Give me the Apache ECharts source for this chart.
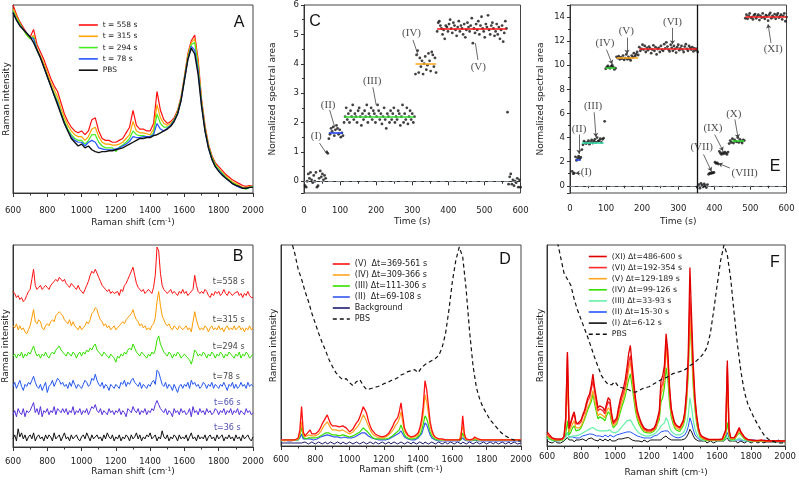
<!DOCTYPE html>
<html><head><meta charset="utf-8">
<script src="https://cdn.jsdelivr.net/npm/echarts@6/dist/echarts.min.js"></script>
<style>html,body{margin:0;padding:0;background:#fff}#c{width:799px;height:485px}</style>
</head><body><div id="c"></div>
<script>
// ---------------- DATA ----------------
// Raman shift grids (cm-1)
const shift20 = []; for (let s = 600; s <= 2000; s += 20) shift20.push(s);
const shift10 = []; for (let s = 600; s <= 2000; s += 10) shift10.push(s);

// Panel A (step 20), relative intensity
const aT558 = [100,95,91,88,85,83,87,79,75,71, 66,61,57,54,48,42,38,35,33,32, 33,31,33,39,40,33,29,28,28,27, 27,28,29,32,35,44,36,34,34,33, 33,37,54,44,39,37,38,40,44,51, 62,74,81,84,71,50,36,26,20,16, 14,12,10,8.5,7,6,5,4,3.5,4, 3.5];
const aT315 = [98,94,90,87,84,82,84,77,73,69, 64,59,55,51,45,40,36,33,31,30, 30,28,30,34,35,30,27,26,26,25.5, 25.5,26,27,29,31,38,33,32,32,31.5, 31,34,47,40,37,36,37,39,43,50, 61,73,80,82,69,49,35,25,19,15, 13,11,9,7.5,6,5,4,3,3,3.5, 3];
const aT294 = [97,93,90,87,84,82,83,76,72,67, 62,57,53,49,43,38,34,31,29,28, 28,26,28,31,31,27,25,24,24,24, 22,24.5,25.5,27,29,33,31,30.5,30.5,30, 30,32,42,37,35,35,36,39,43,50, 61,72,79,80,67,48,34,25,19,15, 12.5,10.5,8.5,7,5.5,4.5,3.5,2.5,2,3, 3.5];
const aT78 = [96,92,89,87,85,83,82,76,72,67, 62,57,52,48,42,37,33,30,28,27, 27,25,27,28,27,24,23.5,23,23,23, 23.5,24,25,26,27.5,30,29.5,29.5,30,30, 30,31,37,34,33,34.5,36,38.5,42,49, 60,71,78,76,65,47,33,24,18,14, 12,10,8,6.5,5,4,3,2.5,2.5,3, 3];
const aPBS = [96,92,89,87,85,83,80,76,72,67, 62,57,52,47,42,37,33,29,27,25, 26,24,25,23,22,21.5,22,22,22.5,22.5, 23,23.5,24,25,26,27,28,29,29,29.5, 29.5,30.5,31,32,33,34,35.5,38,42,49, 60,71,77,74,63,46,33,24,18,14, 11.5,9.5,8,6.5,5,4,3.5,2.5,2.5,3, 3];

// Panel B (step 10), offset spectra
const bT558 = [77,76,74,75,73,74,72,73,75,77, 78,83,88,80,78,79,80,78,79,80, 79,78,80,81,82,83,82,84,83,82, 83,81,80,79,81,80,79,78,80,78, 77,76,78,80,82,85,87,86,88,86, 84,82,80,79,78,77,78,76,77,76, 76,77,75,78,77,80,81,83,85,87, 89,85,81,79,78,77,78,76,77,78, 77,76,79,85,99,97,86,80,78,77, 76,77,78,76,77,76,75,77,76,78, 76,77,75,76,76,78,85,80,77,76, 77,76,78,77,75,74,76,75,77,76, 77,75,76,78,76,75,77,76,75,76, 76,77,75,76,74,76,75,77,75,74, 74];
const bT315 = [60,59,61,58,60,58,59,57,56,58, 60,64,68,62,61,63,62,59,58,60, 61,60,62,63,62,65,66,67,66,65, 63,62,61,63,60,62,60,59,58,60, 58,59,60,62,61,63,66,67,69,68, 65,63,62,60,61,59,60,58,59,60, 58,59,60,61,62,61,63,64,65,66, 68,65,63,62,60,61,59,60,58,59, 58,60,61,64,72,77,70,65,63,61, 60,61,59,58,60,59,58,60,59,58, 59,60,58,59,57,62,67,63,60,58, 59,58,60,59,57,59,60,58,59,58, 60,58,59,57,59,60,58,59,58,60, 58,59,60,58,59,57,59,58,60,58, 59];
const bT294 = [45,46,44,46,45,47,44,46,45,47, 46,48,50,47,45,46,44,46,45,47, 45,44,46,47,46,48,49,50,48,47, 46,45,47,46,45,47,46,44,46,47, 45,47,46,48,47,49,48,50,51,48, 47,46,45,47,46,45,44,46,45,44, 42,45,44,46,45,47,46,48,49,48, 51,49,47,46,45,47,46,45,44,46, 45,47,46,48,53,55,51,49,47,46, 45,47,46,44,46,45,47,46,44,45, 46,45,44,43,41,44,48,47,45,46, 45,47,46,44,46,45,47,46,44,46, 45,47,46,44,46,45,47,46,45,44, 46,45,47,44,46,45,47,46,44,45, 46];
const bT78 = [30,32,29,31,33,30,28,31,30,32, 31,33,35,32,30,29,31,28,30,32, 27,30,31,33,30,32,34,33,31,32, 30,31,29,32,30,33,31,29,31,30, 29,31,33,32,30,31,34,33,36,33, 31,30,32,29,31,30,28,31,30,29, 31,30,29,32,31,33,30,32,31,33, 34,32,31,30,32,29,31,30,29,31, 30,32,33,31,38,37,34,31,30,32, 29,31,30,28,31,29,27,30,31,29, 31,30,32,29,33,31,32,30,31,29, 30,32,31,29,31,30,32,29,31,30, 29,31,30,32,30,28,31,30,32,29, 31,29,30,32,30,31,29,32,30,31, 30];
const bT66 = [16,18,15,19,17,16,19,15,18,17, 18,20,22,17,19,16,20,15,18,17, 19,16,18,17,20,16,19,18,17,19, 17,19,16,18,17,20,16,18,17,19, 16,18,17,19,16,18,20,19,21,18, 17,19,16,18,17,16,19,17,18,16, 18,17,19,16,18,17,15,19,18,17, 20,18,17,19,16,18,17,19,16,18, 17,19,18,21,23,21,19,18,17,19, 16,18,17,15,19,17,18,16,19,17, 18,16,17,19,15,20,17,18,16,19, 17,18,16,19,17,18,16,17,19,18, 16,18,17,19,16,18,17,19,16,18, 17,19,16,18,17,16,19,17,18,16, 17];
const bT36 = [4,6,3,9,5,7,4,6,3,5, 6,4,7,3,5,6,4,5,3,6, 4,6,5,3,7,4,5,6,3,5, 7,4,5,3,6,4,5,6,4,3, 5,6,4,7,5,3,6,4,5,6, 4,5,3,6,4,7,5,4,6,3, 5,4,6,3,5,4,6,5,3,6, 4,5,7,4,6,3,5,4,6,5, 7,4,5,6,3,5,4,8,5,4, 6,3,5,4,6,5,3,6,4,5, 4,6,3,5,7,4,5,3,6,4, 5,4,6,3,5,6,4,5,3,6, 4,5,6,3,5,4,6,4,5,3, 6,4,5,3,6,4,5,6,4,3, 5];
const bLabels = ['t=558 s','t=315 s','t=294 s','t=78 s','t=66 s','t=36 s'];

// Panel C: normalized spectral area, one value every 3 s (t = 3..600)
const cArea = [
 -0.15,-0.2,0.0,0.25,0.1,0.3,0.05,-0.05,0.2,0.0,0.3,-0.2,-0.15,0.1,0.35,0.15,0.25,0.05,0.2,0.1,
 1.0,0.95,
 1.45,1.6,1.8,1.7,1.85,1.55,1.75,1.9,1.8,1.6,1.75,1.5,1.65,1.55,
 2.0,2.2,2.5,2.1,2.3,2.0,2.4,2.2,2.6,2.1, 2.3,2.2,2.0,2.4,2.5,2.2,1.9,2.3,2.1,2.4,
 2.2,2.6,2.0,2.3,2.2,2.5,2.1,2.4,2.3,2.0, 2.2,2.6,2.4,2.1,2.3,1.95,2.2,2.5,2.1,1.8,
 2.3,2.2,2.0,2.4,2.1,2.3,2.5,2.0,2.2,2.1, 2.4,2.3,1.9,2.2,2.6,2.0,2.3,2.1,2.5,1.95,
 2.2,2.4,2.1,2.3,2.0,2.2,
 3.65,4.3,4.45,3.7,4.2,3.9,4.1,3.65,4.0,4.25,3.8,3.95,4.35,4.1,3.75,4.4,4.3,3.9,4.2,3.7,
 5.1,5.4,5.45,5.3,5.2,5.0,5.15,4.85,5.3,5.25, 5.1,5.35,5.5,5.2,5.05,5.4,5.3,5.15,4.95,5.25,
 5.45,5.1,5.3,5.2,5.0,5.35,4.9,5.15,5.4,5.25, 5.1,5.3,5.55,4.7,5.2,5.05,5.35,5.15,5.45,5.0,
 5.3,5.6,5.2,5.1,4.9,5.35,5.25,5.65,5.15,5.0, 5.3,5.4,5.2,4.95,5.1,5.35,5.0,5.25,4.85,5.15,
 5.3,4.75,5.05,5.45,5.2,
 2.35,
 -0.1,0.15,0.25,-0.1,0.05,-0.15,0.0,-0.05,0.1,-0.2,0.05,-0.2
];
const cMeans = [[69,108,1.65],[111,306,2.2],[309,366,4.0],[369,561,5.2]];
// [label, text t, text value, pointer from t, from v, to t, to v]
const cNotes = [['(I)',34,1.55,43,1.3,62,0.95],['(II)',67,2.6,71,2.43,85,1.85],['(III)',189,3.4,191,3.2,200,2.6],['(IV)',298,5.04,302,4.81,316,4.3],['(V)',483,3.9,482,4.13,475,4.7]];

// Panel E: one value every 3 s (t = 3..600)
const eArea = [
 null,
 1.2,1.0,1.05,
 2.4,2.1,2.3,2.45,2.25,2.35,
 3.0,3.4,3.7,3.55,3.5,3.6,3.75,3.45,3.65,3.8,3.55,3.7,3.85,3.6,4.0,3.7,3.75,3.9,3.6,3.85,3.95,
 5.35,
 9.7,9.85,9.95,9.8,9.75,9.9,10.0,9.85,9.65,9.75,
 10.7,10.6,10.75,10.5,10.65,10.55,10.8,10.45,10.6,10.9,10.5,10.7,10.55,10.4,10.8,10.65,11.0,10.75,10.9,11.1,10.85,
 11.5,11.2,11.35,11.7,11.3,11.6,11.1,11.45,11.25,11.55, 11.4,11.0,11.3,11.65,11.2,11.5,10.9,11.35,11.45,11.1,
 11.6,11.3,11.2,11.75,11.4,11.9,11.55,11.3,11.15,11.7, 11.45,11.2,11.6,11.35,11.05,11.5,11.7,11.25,11.4,11.6,
 11.3,11.1,11.55,11.75,11.35,11.2,11.6,11.45,11.3,11.5, 11.15,11.4,11.25,11.35,11.1,
 0.1,-0.2,0.2,0.05,-0.1,0.15,0.0,-0.15,0.1,
 0.95,1.05,1.0,1.1,1.05,1.1,
 1.95,1.85,1.9,1.8,
 2.85,2.7,2.6,2.75,2.65,2.8,2.7,2.6,2.8,
 3.5,3.75,3.6,3.9,3.55,3.8,3.7,3.65,4.0,3.6,3.85,3.7,3.55,3.8,3.75,
 13.9,14.2,13.85,14.1,14.3,13.95,14.0,13.8,14.15,14.25,13.9,14.05,14.2,13.75,14.1,13.95,14.3,14.0,13.85,14.15,
 14.05,13.7,14.2,14.35,13.9,14.1,14.0,14.25,13.85,14.15,14.3,13.95,14.05,14.2,13.8,14.1,14.3,13.65,14.0
];
const eMeans = [[15,30,2.2],[33,93,3.6],[99,126,9.8],[129,189,10.6],[192,354,11.4],[450,483,3.7],[486,600,14.0]];
const eSwitch = 354;
const eNotes = [['(I)',45,1.1,29,1.05,16,1.05],['(II)',25,4.7,25,4.25,25,2.65],['(III)',64,6.6,67,6.1,72,4.05],['(IV)',97,11.85,101,11.3,117,10.1],['(V)',156,12.8,158,12.3,158,10.95],['(VI)',284,13.6,284,13.1,284,11.75],['(VII)',365,3.2,370,2.6,392,1.2],['(VIII)',484,1.05,443,1.47,412,1.85],['(IX)',396,4.8,401,4.25,424,2.9],['(X)',454,5.97,457,5.5,466,3.95],['(XI)',563,11.3,557,11.85,549,13.4]];

// Panel D (step 10)
const dV = [3,3,3,2.5,3,3,3,2.5,3,3.5, 4,8,19.6,7,5,6,7,8,6,5.5, 6,6.5,7.5,9,11,12.5,14,15.5,13,11, 10,10.5,10,9.5,9.5,9,10,9.5,9,8, 7,7.5,8.5,10,11.5,12.5,14.5,17,19.5,18, 16,12.5,10,8,7,6,5.5,5,4.5,4.5, 4.5,5,5.5,6.5,8,9.5,11.5,13,14,17, 21.5,15,9,7,5.5,5,4.5,4.5,5,5.5, 6.5,9,13,20,32.5,28,20,12,8,5.5, 4.5,4,3.5,3.5,3.5,3,3,3,3,3, 3,3,3,3,3,4,15,6,3.5,3, 3,3,3.5,4.5,4,3.5,3,3,3,3, 3,3,3,3,3,3,3,3,3,3, 3,3,3,3,3,3,3,3,3,3, 3];
const dIV = [3,3,2.5,3,3,3,2.5,3,3,3, 3.5,6,12,5.5,4.5,5,5.5,6,5,5, 5,5.5,6,7,8.5,10,11,12,10.5,9, 8,8.5,8,7.5,7.5,7,8,7.5,7,6.5, 6,6.5,7,8,9,10,11.5,13.5,15.5,14, 12,10,8,6.5,5.5,5,4.5,4,4,4, 4,4.5,5,5.5,6.5,7.5,9,10.5,11.5,13.5, 17,12,7.5,6,5,4.5,4,4,4.5,5, 5.5,7.5,10.5,16,25.5,22,16,10,6.5,5, 4,3.5,3.5,3,3,3,3,3,3,3, 3,3,3,3,3,3.5,10,5,3,3, 3,3,3,4,3.5,3,3,3,3,3, 3,3,3,3,3,3,3,3,3,3, 3,3,3,3,3,3,3,3,3,3, 3];
const dIII = [2.5,3,3,2.5,3,3,3,2.5,3,3, 3,5,9.5,4.5,3.5,4,4,4.5,4,3.5, 4,4,4.5,5,5.5,6,6.5,7,6.5,6, 5.5,5.5,5.5,5,5,5,5.5,5,5,4.5, 4.5,4.5,5,5.5,6,6.5,7,8,9,8.5, 7.5,6.5,5.5,4.5,4,3.5,3.5,3.5,3.5,3.5, 3.5,3.5,4,4,4.5,5,5.5,6.5,7,8, 10.5,8,5.5,4.5,4,3.5,3.5,3.5,3.5,4, 4.5,5.5,7.5,11,15,13.5,10.5,7,5,4, 3.5,3,3,3,3,3,3,3,3,3, 3,3,3,3,3,3,6.5,4,3,3, 3,3,3,3.5,3,3,3,3,3,3, 3,3,3,3,3,3,3,3,3,3, 3,3,3,3,3,3,3,3,3,3, 3];
const dII = [2.5,2.5,3,2.5,2.5,3,2.5,2.5,3,2.5, 3,4,6,3.5,3,3.5,3.5,3.5,3.5,3, 3.5,3.5,4,4.5,4.5,5,5,5.5,5,5, 4.5,4.5,4.5,4.5,4.5,4,4.5,4.5,4,4, 4,4,4.5,4.5,5,5.5,6,6.5,7,6.5, 6,5,4.5,4,3.5,3.5,3,3,3,3, 3,3,3.5,3.5,4,4.5,5,5.5,6,6.5, 7.5,6,4.5,4,3.5,3,3,3,3,3.5, 4,4.5,6,8.5,11.5,10.5,8,5.5,4,3.5, 3,3,2.5,2.5,2.5,2.5,2.5,2.5,2.5,2.5, 2.5,2.5,2.5,2.5,2.5,3,4,3,2.5,2.5, 2.5,2.5,2.5,3,2.5,2.5,2.5,2.5,2.5,2.5, 2.5,2.5,2.5,2.5,2.5,2.5,2.5,2.5,2.5,2.5, 2.5,2.5,2.5,2.5,2.5,2.5,2.5,2.5,2.5,2.5, 2.5];
const dBg = [1.5,1,1.5,2,1.5,1,1.5,2,1.5,1, 1.5,2,1.5,1,2,1.5,1,1.5,2,1.5, 1,1.5,2,1.5,1,1.5,2,1,1.5,2, 1.5,1,1.5,2,1.5,1,2,1.5,1,1.5, 2,1.5,1,1.5,2,1.5,1,1.5,2,1.5, 1,1.5,2,1.5,1,2,1.5,1,1.5,2, 1.5,1,1.5,2,1,1.5,2,1.5,1,1.5, 2,1.5,1,1.5,2,1.5,1,2,1.5,1, 1.5,2,1.5,1,2,1.5,1,1.5,2,1.5, 1,1.5,2,1.5,1,1.5,2,1,1.5,2, 1.5,1,1.5,2,1.5,1,2,1.5,1,1.5, 2,1.5,1,1.5,2,1.5,1,1.5,2,1.5, 1,1.5,2,1.5,1,2,1.5,1,1.5,2, 1.5,1,1.5,2,1,1.5,2,1.5,1,1.5, 1.5];
const dPBS = [120,114,108,102,96,88,83,77,72,66, 61,56,51.5,47.5,43,39.5,36.5,34.5,33,33.5, 31.5,30,32,33,30,28,28.5,29,29.5,30, 31,31.5,32.5,33,34,35.3,36,37,37.5,38, 36.5,39,40.5,41.5,42.5,43.5,45,49,56,68, 82,92.5,99,94,78,57,40,29,23,19, 16,13,11,9,7,5.5,4.5,3.5,3,2.5, 2.5];

// Panel F (step 10)
const fXI = [7,6,5,4,3.5,3.5,3,3.5,3,3.5, 5,14,46.7,9,12,15,17,12,11,11.5, 13,15.5,17.5,21,24,25.8,30,35.8,29,24, 19,20,20.8,19,17.5,21,24,23,16,11.7, 12.5,14,19,23,26,29,33,39,46,50, 40.8,32,24,18,15,12.5,10.5,9,8.3,8, 7.5,8,8.5,9,11,14,17.5,32.5,35,40, 55.8,47.5,30,19,15,11.7,10.5,10,9.2,10, 12.5,17,27.5,45,88.8,64,40,24,15,9.2, 6,5,4.5,4,3.5,3.3,3.3,3.3,3.3,3.3, 3.3,3.3,3.5,3.5,4.2,8,42.5,8,4.2,4, 4.2,5.5,7.5,9.2,7,5.8,4.5,3.8,3.3,3, 3,3,2.8,3,2.8,2.8,3,2.8,2.7,2.8, 2.7,2.8,2.6,2.8,2.6,2.5,2.7,2.5,2.6,2.5, 2.5];
const fVI = [6,5,4.5,4,3.5,3,3,3,3,3.5, 4.5,13,45.8,8.5,11,14,16,11,10.5,11, 12,14.5,16.5,19.5,22.5,24,28,32.5,27,22, 17.5,18.5,19,17.5,16,19.5,22,21,15,11, 11.5,13,17,21,24,26.5,30,35,41.5,45, 37,29,22,16.5,14,11.5,10,8.5,7.8,7.5, 7,7.5,8,8.5,10,13,16,29,31,36, 52.5,44,28,18,14,11,10,9.5,8.8,9.5, 12,16,25,40,74,57,36,22,14,8.5, 5.5,4.5,4,3.5,3.3,3,3,3,3,3, 3,3,3.2,3.3,4,7.5,40,7.5,4,3.8, 4,5,7,8.5,6.5,5.5,4.2,3.5,3,2.8, 2.8,2.8,2.6,2.8,2.6,2.6,2.8,2.6,2.5,2.6, 2.5,2.6,2.4,2.6,2.4,2.3,2.5,2.3,2.4,2.3, 2.3];
const fV = [5.5,4.5,4,3.5,3,3,3,3,3,3, 4,10,33,7,9,11,12.5,9,8.5,9, 10,12,14,17,19.5,21,24,27.5,23,19, 15,16,16.5,15,14,17,19,18,13,10, 10.5,12,15,18.5,21.5,24,27.5,32,38,42, 34,26.5,20,15,12.5,10.5,9,7.8,7,7, 6.5,7,7.5,8,9,12,14.5,26,28,33, 49,40,25.5,16.5,13,10,9,8.5,8,8.5, 11,14.5,23,37,64,50,32,20,12.5,7.5, 5,4,3.5,3.2,3,3,3,3,3,3, 3,3,3,3,3.5,6,30,6,3.5,3.3, 3.5,4.5,6,7.5,6,5,4,3.3,3,2.8, 2.7,2.7,2.5,2.7,2.5,2.5,2.7,2.5,2.4,2.5, 2.4,2.5,2.3,2.5,2.3,2.2,2.4,2.2,2.3,2.2, 2.2];
const fIV = [5,4,3.5,3,2.8,2.8,2.8,2.8,2.8,3, 3.5,6,12.5,5.5,7,9,10,7.5,7.5,8, 9,11,13,15.5,18,20,22,25.8,21,17, 13.5,14.5,15,13.5,12.5,15,17,16,11.5,9, 9.5,11,13.5,16.5,19.5,22,25,29,33,35.8, 30,23.5,17.5,13.5,11,9.5,8,7,6.5,6.5, 6,6.5,7,7.5,8.5,11,13,22,24,29, 39,33,21.5,14.5,11.5,9,8,7.5,7.2,7.5, 10,13,21,35,62.5,47,29,18,11,7, 4.5,3.8,3.3,3,2.8,2.8,2.8,2.8,2.8,2.8, 2.8,2.8,2.8,2.8,3.2,5,11.7,5,3.2,3, 3.2,4,5.5,6.5,5.5,4.5,3.5,3,2.8,2.6, 2.5,2.5,2.4,2.5,2.4,2.4,2.5,2.4,2.3,2.4, 2.3,2.4,2.3,2.4,2.2,2.3,2.4,2.2,2.3,2.2, 2.2];
const fIII = [4,3.5,3,2.8,2.5,2.5,2.5,2.5,2.5,2.8, 3,4,6.7,4,4.5,5,5.5,5,5,5.5, 6,6.5,7,7.5,8,8.5,8.8,9.2,8.5,8, 7.5,7.5,8,7.5,7,7.5,8,8,7,6.5, 6.5,7,7.5,8.5,9.5,10.5,11.5,12.5,13.3,13, 11.5,10,8.5,7.5,6.5,6,5.5,5,5,5, 5,5,5.5,5.5,6.5,7.5,8.5,10,10.5,11.5, 14,12.5,9.5,7.5,6.5,6,5.5,5.5,5.5,5.5, 6.5,8,10.5,15,24,19,12.5,8.5,6,4.5, 3.5,3,2.8,2.7,2.6,2.6,2.6,2.6,2.6,2.6, 2.6,2.6,2.6,2.6,2.8,3.5,4.5,3.5,2.8,2.6, 2.7,3,3.5,4,3.5,3,2.8,2.6,2.5,2.4, 2.4,2.3,2.4,2.3,2.4,2.3,2.2,2.3,2.4,2.3, 2.2,2.3,2.2,2.3,2.2,2.1,2.2,2.3,2.2,2.1, 2.2];
const fII = [4.5,4,3.5,3,3.5,2.5,3,2.5,3,3, 3.5,5,6.7,4.5,4,4.5,5,4,4.5,4, 4.5,5,4.5,5.5,5,6,5.5,5.8,5.5,5, 5.5,5,5.5,4.5,5.5,5,4.5,5.5,5,4.5, 5,5.5,5,6,5.5,6.5,6.5,7,7.5,7, 6.5,6,5.5,5,5,4.5,4.5,4,4.5,4, 4.5,4,4.5,5,5,5.5,6,7,7,7.5, 8.3,7.5,6.5,5.5,5,4.5,4.5,4,4.5,4.5, 5,5.5,7,9.5,14,11.5,8,5.5,4.5,3.5, 3,3,2.5,3,2.5,3,2.5,3,2.5,3, 2.5,3,2.5,3,3,4,6.7,4,3,2.5, 3,2.5,3,3.5,3,3,2.5,3,2.5,2.5, 3,2.5,3,2.5,2.5,3,2.5,2.5,3,2.5, 2.5,3,2.5,2.5,2,2.5,3,2.5,2,2.5, 2.5];
const fI = [3,2,2.5,1.5,2,2.5,1.5,2,1.5,2, 2.5,3,4.2,3,2.5,3,2,3,2.5,3, 2.5,3.5,3,2.5,3.5,3,4,3.5,3,3.5, 2.5,3.5,3,2.5,3.5,3,2.5,3.5,2.5,3, 2.5,3,3.5,3,3.5,3,4,3.5,4.2,3.5, 3,3.5,2.5,3,2.5,3,2,3,2.5,2, 2.5,3,2.5,3,2.5,3,3.5,3,4,3.5, 5,4,3.5,3,2.5,3,2.5,3,2.5,3, 3,3.5,4.5,6,8.3,7,5,3.5,3,2.5, 2,2.5,2,2.5,1.5,2,2.5,2,1.5,2, 2.5,2,2.5,2,2.5,3,4,2.5,2,2.5, 2,2.5,1.5,2,2.5,2,1.5,2,2.5,2, 1.5,2,2.5,2,1.5,2,2.5,1.5,2,2, 2.5,2,1.5,2,2.5,2,1.5,2,2.5,2, 2];
const fPBS = [125,118,110,102,94,86,83,80,73,67.5, 63,58.5,54,49,44,39.5,35,32.5,30.5,30.5, 32,29.5,29,28.5,28,27,26.8,27.5,28.5,29, 29.5,30.5,31.5,32.5,33.5,34,35,36,36.5,37, 37.5,38.5,40,41,42.5,44,46,49,56,67.5, 80,92,100,95,83,66,50,37,27,21, 17,13.5,10.5,7.5,5,3.5,2.5,2,1.5,1.5, 1.5];

// ---------------- STYLE / LAYOUT ----------------
const SANS = 'DejaVu Sans';
const SERIF = 'Liberation Serif';
const TXT = '#222';
const AX = '#333';
const grids = [
  {left:13,  top:5,   width:240,   height:188}, // A
  {left:304, top:5,   width:216.5, height:188}, // C
  {left:570, top:5,   width:216.5, height:188}, // E
  {left:13,  top:245, width:240,   height:202}, // B
  {left:281, top:245, width:240,   height:201}, // D
  {left:547, top:245, width:240,   height:201}  // F
].map(g => Object.assign(g, {show:true, borderColor:'#444', borderWidth:1, backgroundColor:'transparent'}));

const nameStyle = {fontFamily:SANS, fontSize:9, color:TXT, rich:{sup:{fontFamily:SANS, fontSize:6, color:TXT, verticalAlign:'top', padding:[0,0,4,0]}}};
const plain = v => String(v);
function xSpec(gi, margin, gap) {
  return {gridIndex:gi, type:'value', min:600, max:2000, interval:200,
    name:'Raman shift (cm{sup|-1})', nameLocation:'middle', nameGap:gap, nameTextStyle:nameStyle,
    axisLine:{show:true, lineStyle:{color:AX}}, axisTick:{show:true, length:4, lineStyle:{color:AX}},
    minorTick:{show:true, splitNumber:2, length:2.5, lineStyle:{color:AX}},
    axisLabel:{fontFamily:SANS, fontSize:8.5, color:TXT, margin:margin, formatter:plain}, splitLine:{show:false}};
}
function xTime(gi, margin, gap) {
  return {gridIndex:gi, type:'value', min:0, max:600, interval:100,
    name:'Time (s)', nameLocation:'middle', nameGap:gap, nameTextStyle:nameStyle,
    axisLine:{show:true, lineStyle:{color:AX}}, axisTick:{show:true, length:4, lineStyle:{color:AX}},
    minorTick:{show:true, splitNumber:2, length:2.5, lineStyle:{color:AX}},
    axisLabel:{fontFamily:SANS, fontSize:8.5, color:TXT, margin:margin, formatter:plain}, splitLine:{show:false}};
}
function yInt(gi, gap) {
  return {gridIndex:gi, type:'value', min:0, max:100, name:'Raman intensity', nameLocation:'middle', nameGap:gap,
    nameTextStyle:{fontFamily:SANS, fontSize:9, color:TXT},
    axisLine:{show:true, lineStyle:{color:AX}}, axisTick:{show:false}, axisLabel:{show:false}, splitLine:{show:false}};
}
function yArea(gi, min, max, split, gap, top) {
  return {gridIndex:gi, type:'value', min:min, max:max, splitNumber:split,
    name:'Normalized spectral area', nameLocation:'middle', nameGap:gap,
    nameTextStyle:{fontFamily:SANS, fontSize:9, color:TXT},
    axisLine:{show:true, lineStyle:{color:AX}}, axisTick:{show:true, length:3, lineStyle:{color:AX}},
    minorTick:{show:true, splitNumber:2, length:2, lineStyle:{color:AX}},
    axisLabel:{fontFamily:SANS, fontSize:8.5, color:TXT, margin:5,
      formatter: v => (Math.abs(v - Math.round(v)) < 1e-6 && v >= 0 && v <= top) ? String(Math.round(v)) : ''},
    splitLine:{show:false}};
}

const xAxis = [xSpec(0, 13.5, 24.5), xTime(1, 13.5, 24.5), xTime(2, 11.5, 24.5), xSpec(3, 10, 18), xSpec(4, 9, 19), xSpec(5, 6, 22)];
const yAxis = [yInt(0, 2), yArea(1, -0.4, 6, 6, 27, 6), yArea(2, -0.6, 15, 7, 25, 14), yInt(3, 3), yInt(4, 3), yInt(5, 2)];

function line(name, gi, xs, ys, color, width, dashed) {
  return {name:name, type:'line', xAxisIndex:gi, yAxisIndex:gi, data: ys.map((v, i) => [xs[i], v]),
    symbol:'none', showSymbol:false, clip:true, animation:false,
    lineStyle:{color:color, width:width, type: dashed ? [4, 3] : 'solid'}, itemStyle:{color:color}};
}

const series = [];
// A
series.push(line('t = 558 s', 0, shift20, aT558, '#ff1010', 1.2));
series.push(line('t = 315 s', 0, shift20, aT315, '#ffa500', 1.2));
series.push(line('t = 294 s', 0, shift20, aT294, '#44ee22', 1.2));
series.push(line('t = 78 s', 0, shift20, aT78, '#2255ff', 1.2));
series.push(line('PBS', 0, shift20, aPBS, '#111111', 1.4));
// B
const bSeries = [bT558, bT315, bT294, bT78, bT66, bT36];
const bColors = ['#ff1010', '#ff9a00', '#33e000', '#2255ee', '#5530dd', '#111111'];
bSeries.forEach((arr, k) => series.push(line(bLabels[k], 3, shift10, arr, bColors[k], 1)));
const bLabelPos = [[1858, 81.8], [1858, 62.9], [1858, 49.5], [1845, 34.7], [1850, 21.8], [1850, 9.4]];
const bLabelColors = ['#111', '#111', '#111', '#111', '#22229a', '#22229a'];
series.push({type:'scatter', xAxisIndex:3, yAxisIndex:3, symbolSize:1, silent:true, animation:false,
  itemStyle:{color:'rgba(0,0,0,0)'},
  data: bLabels.map((t, k) => ({value:[bLabelPos[k][0], bLabelPos[k][1]],
    label:{show:true, position:'inside', formatter:t, fontFamily:SANS, fontSize:8, color:bLabelColors[k]}}))});

// C & E scatter panels
function areaPanel(gi, arr, means, meanColors, notes, arrows, extraLines) {
  const pts = arr.map((v, i) => [3 * (i + 1), v]).filter(d => d[1] !== null);
  const ml = [{yAxis:0, lineStyle:{type:[5, 3], color:'#7a8290', width:1}}];
  means.forEach((m, k) => ml.push([{coord:[m[0], m[2]], lineStyle:{type:'solid', color:meanColors[k], width:1.6}}, {coord:[m[1], m[2]]}]));
  (extraLines || []).forEach(x => ml.push({xAxis:x, lineStyle:{type:'solid', color:'#111', width:1.3}}));
  series.push({type:'scatter', xAxisIndex:gi, yAxisIndex:gi, data:pts, symbol:'circle', symbolSize:2.8,
    itemStyle:{color:'#111'}, animation:false, z:3,
    markLine:{silent:true, symbol:['none', 'none'], label:{show:false}, animation:false, data:ml}});
  series.push({type:'scatter', xAxisIndex:gi, yAxisIndex:gi, symbolSize:1, silent:true, animation:false,
    itemStyle:{color:'rgba(0,0,0,0)'},
    data: notes.map(n => ({value:[n[1], n[2]], label:{show:true, position:'inside', formatter:n[0], fontFamily:SERIF, fontSize:11, color:'#222'}})),
    markLine:{silent:true, symbol: arrows ? ['none', 'arrow'] : ['none', 'none'], symbolSize:4, label:{show:false}, animation:false,
      lineStyle:{type:'solid', color:'#444', width:0.8},
      data: notes.map(n => [{coord:[n[3], n[4]]}, {coord:[n[5], n[6]]}])}});
}
areaPanel(1, cArea, cMeans, ['#2244ee', '#33dd33', '#ffaa22', '#ff1010'], cNotes, false);
areaPanel(2, eArea, eMeans, ['#2244ee', '#33ddaa', '#33dd33', '#ffaa22', '#ff2020', '#33dd33', '#ff2020'], eNotes, true, [eSwitch]);

// D
series.push(line('Background', 4, shift10, dBg, '#1a1a6e', 1));
series.push(line('(II)  \u0394t=69-108 s', 4, shift10, dII, '#3355ee', 1.2));
series.push(line('(III) \u0394t=111-306 s', 4, shift10, dIII, '#33e000', 1.2));
series.push(line('(IV) \u0394t=309-366 s', 4, shift10, dIV, '#ffa520', 1.2));
series.push(line('(V)  \u0394t=369-561 s', 4, shift10, dV, '#ff1010', 1.3));
series.push(line('PBS ', 4, shift20, dPBS, '#111111', 1.2, true));
// F
series.push(line('(I) \u0394t=6-12 s', 5, shift10, fI, '#111111', 1));
series.push(line('(II) \u0394t=15-30 s', 5, shift10, fII, '#2255ff', 1));
series.push(line('(III) \u0394t=33-93 s', 5, shift10, fIII, '#66f0a8', 1.2));
series.push(line('(IV) \u0394t=99-126 s', 5, shift10, fIV, '#33e000', 1.2));
series.push(line('(V) \u0394t=129-189 s', 5, shift10, fV, '#ffa520', 1.2));
series.push(line('(VI) \u0394t=192-354 s', 5, shift10, fVI, '#ff2a2a', 1.3));
series.push(line('(XI) \u0394t=486-600 s', 5, shift10, fXI, '#e00000', 1.3));
series.push(line('PBS  ', 5, shift20, fPBS, '#111111', 1.2, true));

function legend(names, left, top, iw, fs, gap) {
  return {data:names, orient:'vertical', left:left, top:top, padding:0, itemWidth:iw, itemHeight:9, itemGap:gap,
    selectedMode:false, itemStyle:{opacity:0}, lineStyle:{width:1.6},
    textStyle:{fontFamily:SANS, fontSize:fs, color:TXT, lineHeight:9}};
}
const legends = [
  legend(['t = 558 s', 't = 315 s', 't = 294 s', 't = 78 s', 'PBS'], 78, 20.5, 19, 7.5, 2.3),
  legend(['(V)  \u0394t=369-561 s', '(IV) \u0394t=309-366 s', '(III) \u0394t=111-306 s', '(II)  \u0394t=69-108 s', 'Background', 'PBS '], 332, 259.5, 17, 8, 2),
  legend(['(XI) \u0394t=486-600 s', '(VI) \u0394t=192-354 s', '(V) \u0394t=129-189 s', '(IV) \u0394t=99-126 s', '(III) \u0394t=33-93 s', '(II) \u0394t=15-30 s', '(I) \u0394t=6-12 s', 'PBS  '], 588, 252, 18, 7.8, 2.1)
];

const letters = [['A', 239, 23], ['C', 315, 22], ['E', 775, 167], ['B', 238, 257], ['D', 505, 260], ['F', 775, 263]];
const graphic = letters.map(l => ({type:'text', silent:true, style:{text:l[0], x:l[1], y:l[2], textAlign:'center', textVerticalAlign:'middle', font:'16px "Liberation Sans"', fill:'#111'}}));

const chart = echarts.init(document.getElementById('c'), null, {renderer:'canvas'});
chart.setOption({animation:false, backgroundColor:'#fff', grid:grids, xAxis:xAxis, yAxis:yAxis, series:series, legend:legends, graphic:graphic});
</script></body></html>
